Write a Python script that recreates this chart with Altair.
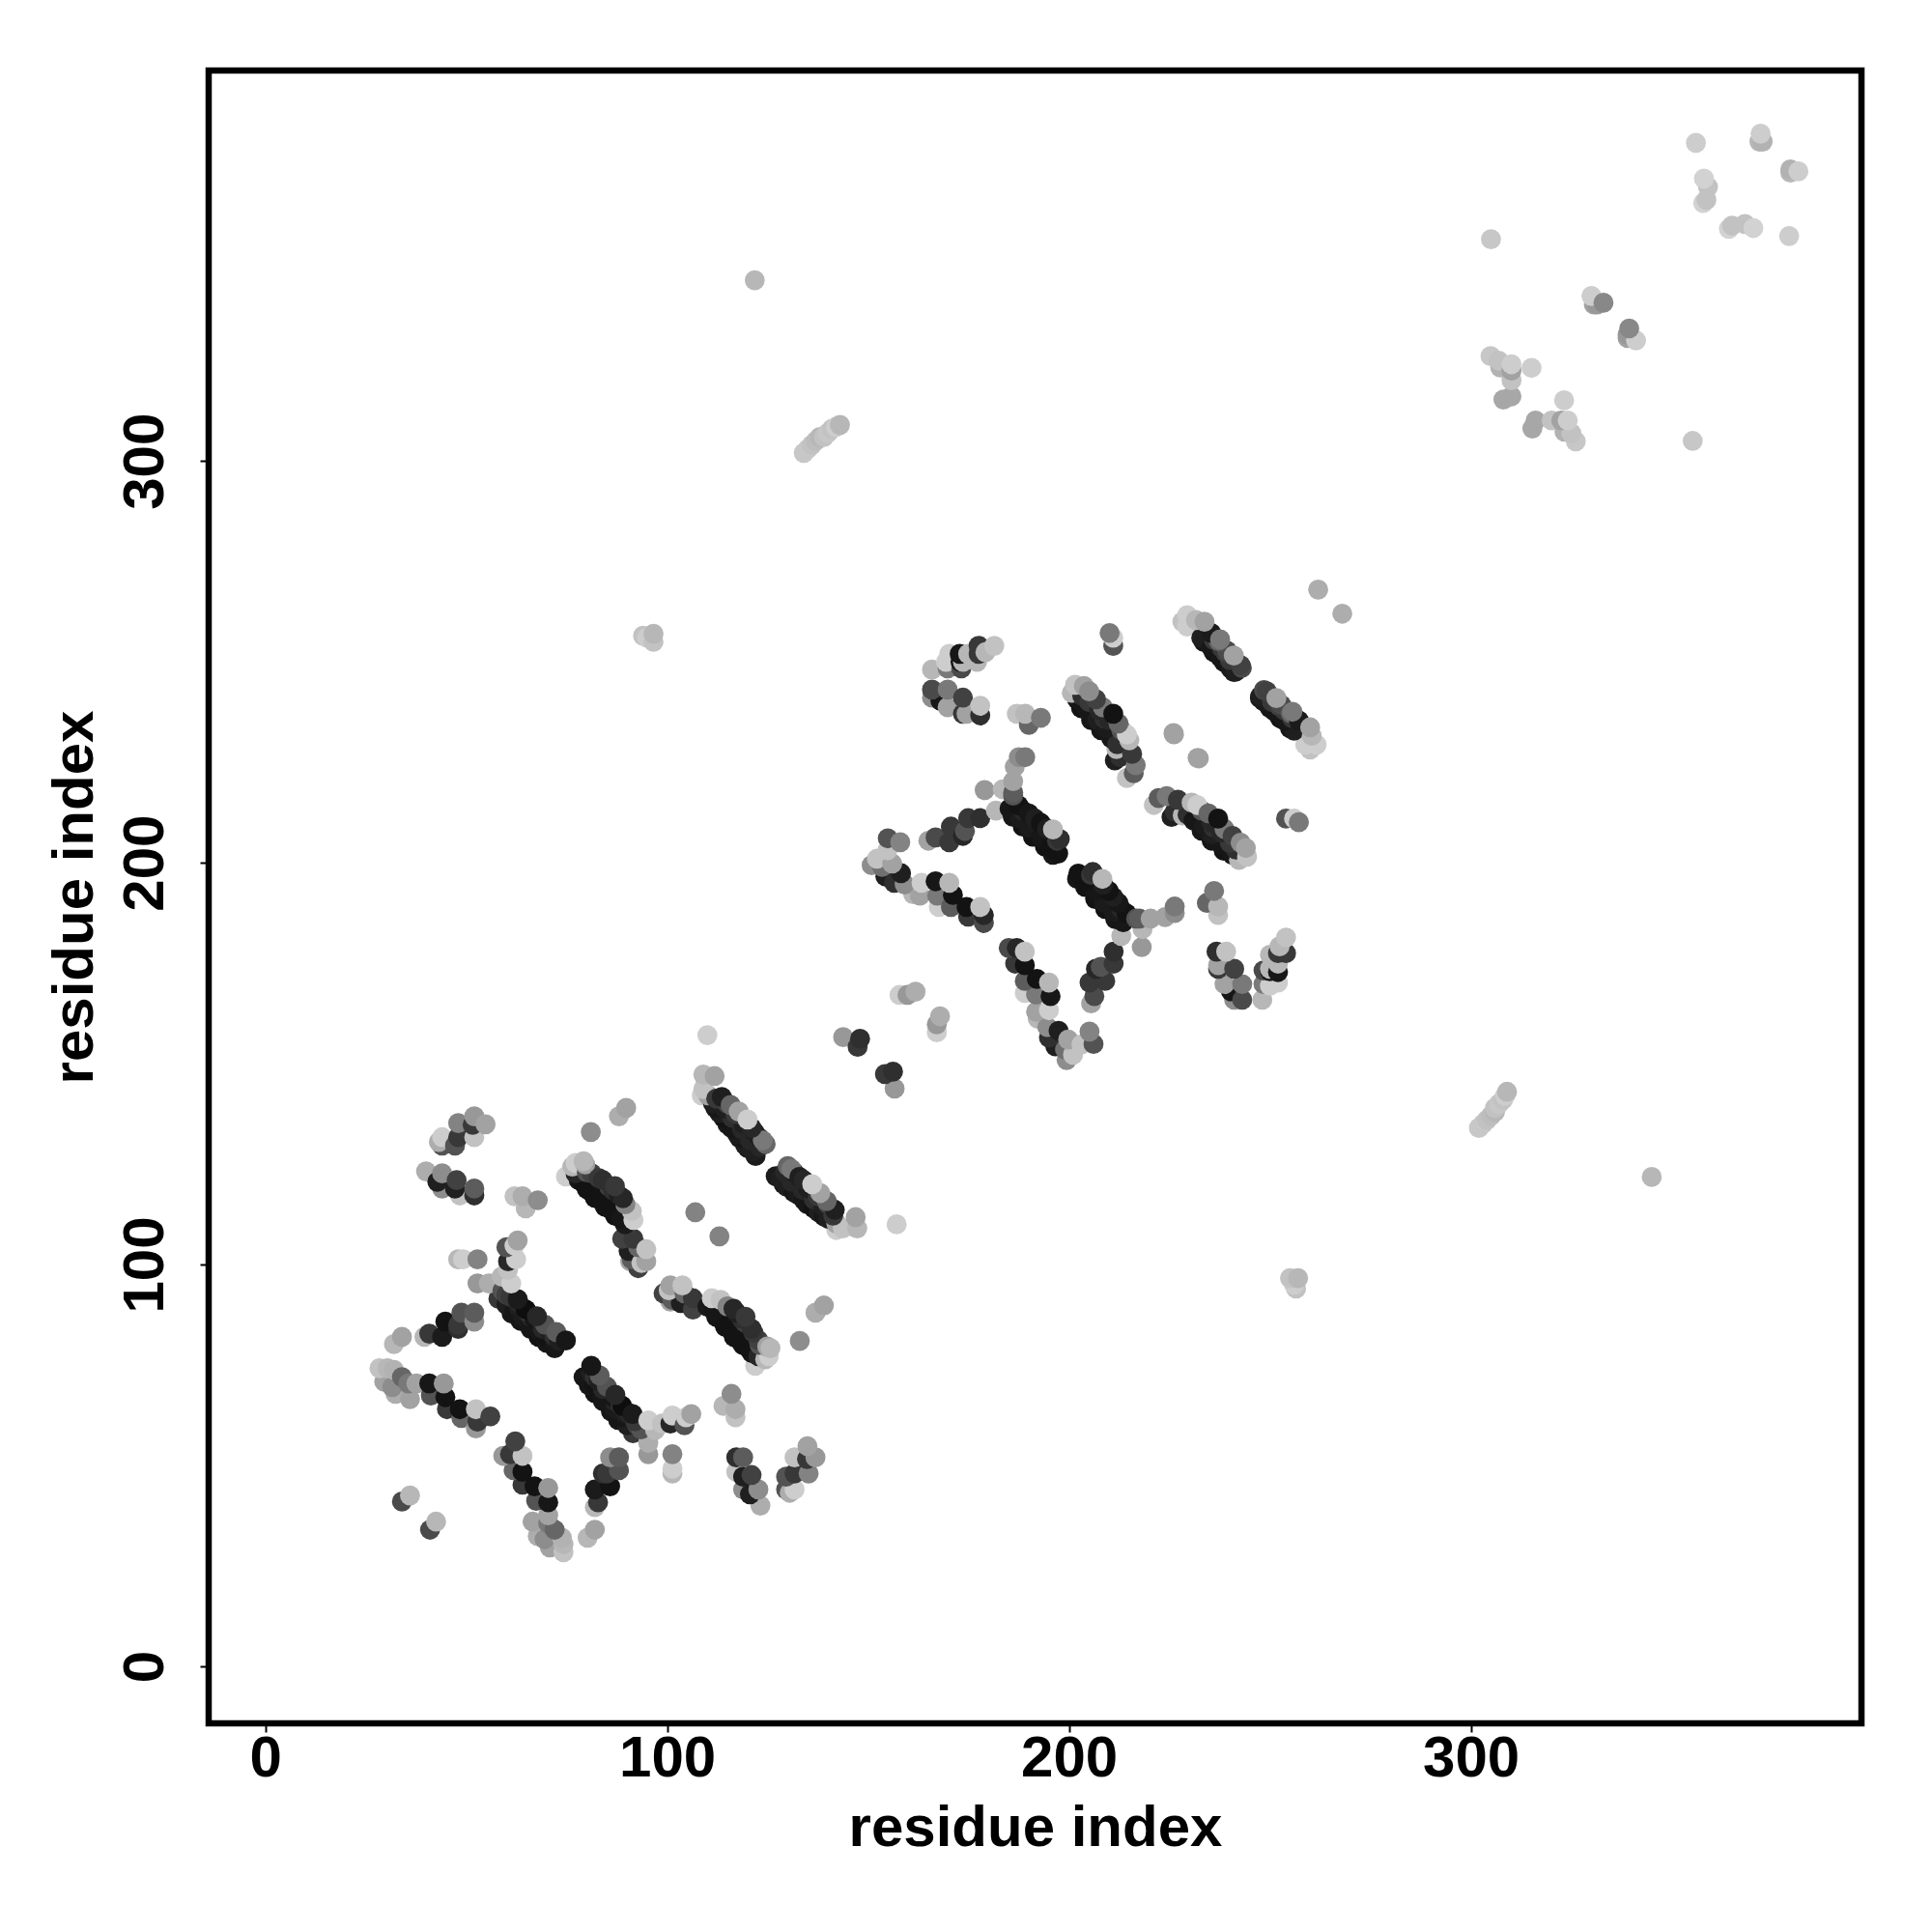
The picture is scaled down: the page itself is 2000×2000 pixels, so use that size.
import altair as alt
import pandas as pd

f1 = [(28.4,74.2,200),(30.4,74.2,190),(32,73.8,185),(29.6,70.8,170),(31.6,69.5,150),(34,72,110),(32.4,67.8,180),
      (35.6,70.4,130),(36,66.5,170),(37.6,70.4,170),(40.8,70.4,20),(41.2,67.4,90),(44.4,70.4,160),(44.8,67,15),
      (45.2,64,60),(48.8,61.8,110),(48.4,64,15),(52.4,59.2,160),(52.8,60.9,60),(52.4,64,200),(56,62.2,70)]
f2 = [(32,80.2,190),(34,82,170),(39.6,82,190),(40.8,82.8,60),(44,82,25),(44.8,85.8,15),(48,84,50),(48,85,60),
      (48.8,88,90),(52,85.8,150),(52,88,100)]
f3 = [(58,91.5,60),(60,90,30),(62,88.5,20),(64,87,25),(66,85,20),(68,83.5,20),(70,82,15),(72,80,20),
      (59,93.5,90),(61,92,60),(63,90.5,40),(65,88.5,70),(67,86.5,20),(69,85,40),(71,83,30),(73,81,30),
      (62.8,91.4,25),(64.8,88.8,10),(67.6,87.1,40),(69.6,85,90),(72.4,83.2,100),(74.8,81.1,20),
      (61.2,95.3,210),(58.8,97,190),(60.4,98.7,200),(62.4,101.3,210),(62.8,106,170),(60,104.3,90),(60.4,100.8,40),
      (62,104.7,210),(55.6,95.3,180),(52.8,95.3,160),(49.2,101.3,210),(48,101.3,190),(52.8,101.3,140)]
f3_extra = [(61.3,87.8,20),(63.5,86,20),(66,84,20),(68,82,15),(70,80.5,20),(72,79.2,20),
            (60,92.5,70),(63,89.5,30),(66,87,40),(69,84,40),(72,82,50)]
f4 = [(40,123.2,180),(44,122.7,150),(42.8,120.6,30),(44,118.9,150),(47.6,121,70),(47.2,118.9,30),(48.4,117.2,200),
      (52,118.9,100),(52,117.2,50)]
f5 = [(43.2,130.5,180),(44,129.6,90),(44,131.7,210),(47.2,129.6,90),(48,131.7,60),(48,135.2,140),(51.6,134.8,60),
      (52,131.7,200),(52,136.9,160),(54.8,134.9,170)]
f6 = [(62,117,200),(64,117,180),(64.8,114,190),(67.8,116,150)]
f7 = [(74.8,121.9,210),(77.2,125.3,210),(79.2,125.7,190),(76.4,124.4,190),(79.6,124.9,170),
      (77.2,122.7,40),(79.2,120.2,15),(81.2,118,15),(83.6,115.9,15),(86,113.7,15),(88.4,111.6,20),
      (81.2,122.7,70),(84,121,50),(85.6,119.3,70),(88,117.2,30),(89.6,115,140),(91.2,113.3,200),(91.6,111.1,210),
      (81,133,150),(88,136.9,180),(89.8,139,170)]
f7_extra = [(78,121,20),(80,118.8,15),(82,116.6,15),(84.5,114.4,15),(87,112.2,15),(89.5,110,25),
            (80,123,90),(83,121.5,60),(86.5,118.5,50),(87,119.5,60),(89,116.5,40)]
f8 = [(88.8,106.4,70),(91.6,106.4,60),(92.8,104.3,110),(94.8,103.8,200),(90.4,103.4,30),(91.2,101.3,100),
      (90.8,100.8,170),(94.8,100.8,170),(92.8,99.1,70),(93.6,100.4,200)]
f9 = [(34,41,80),(36,42.5,190),(107,113,140)]
c1 = [(110,157.1,210),(109,147.3,190),(111.8,146.9,170),(109.4,146.5,200),(109,143.7,200),(108.6,142.1,210),(110.2,142.1,170),
      (111.4,140.1,30),(113,137.7,30),(115,134.9,25),(117.4,132.5,25),(119.4,129.7,30),(121.4,128.1,30),
      (112.2,141.3,60),(114.2,138.9,30),(116.2,136.5,50),(118.6,133.7,40),(120.6,130.9,40),
      (113.6,141.7,30),(115.8,139.7,110),(117.8,138.1,170),(120,136.1,210),(121.8,132.9,30),(123.8,130.9,130),(123,129.3,40)]
c1_extra = [(112,139,20),(114,136.5,15),(116,134,20),(118,131.5,20),(120,129,20),(122,127,25),
            (115,140,70),(117,137.5,60),(119,135,30),(121,134,40),(123,131.5,30),(124.5,130,110)]
c2 = [(143.8,156.6,160),(147.4,154.2,60),(148,156.2,50),(157.8,167.1,210),(159.8,167.1,160),(161.8,167.9,180)]
g1 = [(165.9,248.1,190),(169.4,250,210),(170.2,252,210),(169.8,248.4,130),(173.2,248.4,80),(172.8,252,20),(173.6,250,190),
      (173,250,20),(177.1,250,190),(177.5,252,60),(177.5,254,60),(174.9,252,190),(179.2,252.4,190),(181.4,254,200)]
g2 = [(165.9,243.1,80),(165.9,241.1,150),(169.8,243.1,130),(168,240.3,20),(169.8,238.7,170),(173.6,241.1,70),(173.6,237.1,60),
      (174.5,237.1,170),(177.9,239.1,200),(177.9,236.7,50)]
g3 = [(187,237.1,200),(189.1,237.1,190),(190,234.3,110),(193,236.1,130)]
g4 = [(189.1,226.3,130),(186.5,223.9,170),(187.5,226.3,150),(186.1,220.3,170),(183.5,218.3,190),(186.1,217.5,100),
      (181.8,213,190),(179,218.1,160),(185.2,213.5,20),(187.8,211.1,25),(190,208.7,25),(193,206.3,20),(195.5,203.9,15),(197.3,202.3,15),
      (187.4,214.3,15),(190,212.3,20),(193,209.9,15),(196,208.3,190),(197.7,205.9,50),(186.1,216.7,90)]
g4_extra = [(186,211.5,20),(188.5,209,15),(191,206.5,15),(194,204,15),(196,202,20),
            (188.5,213,40),(191.5,211,30),(194.5,208.5,30),(197,205.5,60)]
g5 = [(165,205.5,170),(166.8,206.3,80),(170.2,205.1,60),(170.6,209,60),(174.1,207.9,90),(174.9,211.1,60),(177.9,211.1,50),(173.6,206.7,40)]
g6 = [(154.9,206.1,90),(158,205.1,140),(154.8,203.1,200)]
g7 = [(150.9,199.4,150),(152.2,201,200),(153.5,199,120),(154.3,196.6,30),(156,199.8,170),(156.5,195,50),(158.2,197.4,30),
      (159.1,194.6,150),(161.2,192.2,190),(163.3,195,210),(162.9,191.8,170),(166.8,195.4,20),(170.2,195,190),(167.2,191.8,130),
      (167.6,189,210),(171.1,192,15),(170.6,189,100),(174.5,189,15),(177.9,189,200),(174.9,186.6,60),(178.8,187,40),(178.8,185,80)]
g9 = [(201.5,244.3,200),(200.7,242.3,190),(203.7,244,170),(205,242.7,150),(202,240.7,20),(204.5,237.9,20),(207.1,235.5,30),(209.3,233.5,25),
      (203.3,241.5,50),(206.7,240.7,70),(208.4,238.7,130),(211,237.1,15),(212.3,234.7,110),(214.4,231.9,210),(208.8,235.9,50),
      (211.8,228.3,190),(212.7,226.3,50),(215.7,227.1,60),(216.6,224.3,130),(214.4,221.1,200),(216.1,222.3,100),(211.4,225.5,30)]
g9_extra = [(203,238.5,15),(205.5,235.5,20),(208,233,20),(210.5,231,20),(212,229.5,50),
            (205,240,60),(207.5,238,40),(210,235.5,40),(213,233,90),(215,230.5,190)]
g10 = [(226,232.3,170),(232,226.1,170),(210.1,257.2,130),(211,254,90),(211,256,210),(262,268,180)]
g12 = [(229.4,261.6,210),(228.2,260,200),(231.6,260.4,190),(233.7,260,170),(229.4,258.8,210),
       (232.9,256,30),(235.4,253.6,20),(237.6,251.2,20),(240.2,248.4,25),(234.2,257.6,30),(237.2,255.2,110),(238.9,252.4,70),
       (235.4,257.2,25),(237.6,255.6,130),(239.3,252.8,80),(241,251.6,170),(242.7,249.2,70),(241.5,247.6,30)]
g12_extra = [(233.5,255,20),(236,252.5,15),(238.5,250,20),(241,247.5,25),(236,255.5,60),(238,253.5,60),(240,250.5,60),(243,248.5,80)]
far1 = [(356,379.2,210),(372.1,381.5,210),(372.6,379.5,185),(371.8,379.5,190),(358,370.3,215),(359,368.2,200),(358.6,365,200),
        (357.8,364.2,215),(305,355.2,205),(330,341.1,210),(330.6,339,170),(333,339.4,145),(331.4,339,160)]
far2 = [(304.9,326.1,205),(306.9,325,200),(307.3,323.3,185),(310.1,324.1,210),(310.1,320.1,200),(315.1,323.2,210),(310.1,322.5,170),
        (308.1,315.3,175),(310.1,316.1,175)]
far3 = [(134,302,205),(135,303,205),(136,304,200),(137,305,195),(138,306,190),(139,306,200),(140,307,205),(141,308,200),
        (142,308.5,210),(143,309,190),(121.8,345,190),(94,256.5,200),(96.6,257,190),(96.6,255,200),(95,256,210)]

groups = [f1, f2, f3, f3_extra, f4, f5, f6, f7, f7_extra, f8, f9, c1, c1_extra, c2, g1, g2, g3, g4, g4_extra, g5, g6, g7,
          g9, g9_extra, g10, g12, g12_extra, far1, far2, far3]
tick_values = [0, 100, 200, 300]
x_domain = [-14.1, 397.2]
y_domain = [-14.2, 397.2]

rows = []
for group in groups:
    for i, j, shade in group:
        rows.append({"x": i, "y": j, "shade": shade, "depth": i + j})
        rows.append({"x": j, "y": i, "shade": shade, "depth": i + j})
df = pd.DataFrame(rows).sort_values(["depth", "x"]).reset_index(drop=True)

font = "Liberation Sans"
axis_style = dict(values=tick_values, grid=False, domain=False, ticks=True, tickColor="black", tickWidth=2,
                  tickSize=9, labelFont=font, labelFontWeight="bold", labelFontSize=60, labelColor="black",
                  titleFont=font, titleFontWeight="bold", titleFontSize=60, titleColor="black", format="d")

chart = (
    alt.Chart(df)
    .mark_circle(size=430, opacity=1)
    .encode(
        x=alt.X("x:Q", title="residue index", scale=alt.Scale(domain=x_domain, nice=False, zero=False),
                axis=alt.Axis(labelPadding=-2, titlePadding=13, labelFlush=False, **axis_style)),
        y=alt.Y("y:Q", title="residue index", scale=alt.Scale(domain=y_domain, nice=False, zero=False),
                axis=alt.Axis(labelAngle=270, labelAlign="center", labelBaseline="bottom", labelPadding=26,
                              titlePadding=12, labelFlush=False, **axis_style)),
        color=alt.Color("shade:Q", legend=None, scale=alt.Scale(domain=[0, 255], range=["#000000", "#ffffff"])),
    )
    .properties(width=1711, height=1711, autosize="none",
                padding={"left": 208, "top": 65, "right": 65, "bottom": 208}, background="white")
    .configure_view(stroke="black", strokeWidth=6.5)
)
chart.save("out.html", embed_options={"renderer": "svg", "actions": False})
